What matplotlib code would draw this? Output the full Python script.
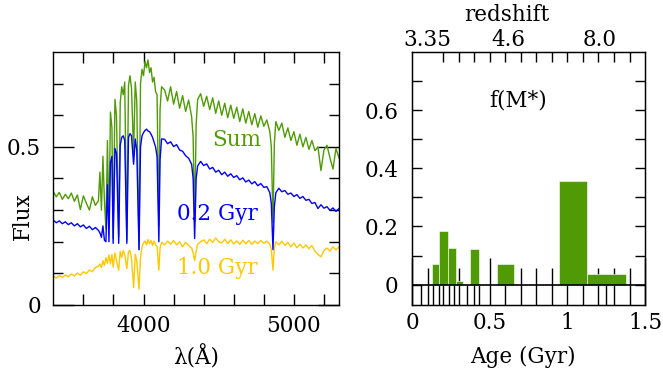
import matplotlib.pyplot as plt
import numpy as np

plt.rcParams['font.family'] = ['DejaVu Serif']
plt.rcParams['font.size'] = 15.5

# --- spectra (rest-frame wavelength in Angstrom, flux) ---
wave = [3400, 3420, 3440, 3460, 3480, 3500, 3520, 3540, 3560, 3580, 3600, 3620, 3640, 3660, 3680,
        3700, 3710, 3720, 3730, 3740, 3750, 3760, 3770, 3780, 3790, 3798, 3810, 3820, 3835, 3845,
        3855, 3865, 3875, 3889, 3900, 3910, 3920, 3934, 3945, 3955, 3970, 3980, 3990, 4000, 4010,
        4020, 4030, 4040, 4050, 4060, 4070, 4080, 4090, 4102, 4110, 4120,
        4140, 4160, 4180, 4200, 4220, 4240, 4260, 4280, 4300, 4320, 4330, 4340, 4350, 4360, 4380,
        4400, 4420, 4440, 4460, 4480, 4500, 4520, 4540, 4560, 4580, 4600, 4620, 4640, 4660, 4680,
        4700, 4720, 4740, 4760, 4780, 4800, 4820, 4840, 4850, 4861, 4870, 4880, 4900, 4920, 4940,
        4960, 4980, 5000, 5020, 5040, 5060, 5080, 5100, 5120, 5140, 5160, 5180, 5200, 5220, 5240,
        5260, 5280, 5300]

flux_sum = [0.358, 0.342, 0.356, 0.334, 0.350, 0.336, 0.354, 0.328, 0.348, 0.302, 0.345, 0.322, 0.300, 0.342, 0.315,
            0.330, 0.420, 0.300, 0.470, 0.330, 0.240, 0.520, 0.240, 0.610, 0.560, 0.210, 0.650, 0.600, 0.215, 0.640,
            0.690, 0.665, 0.705, 0.205, 0.695, 0.725, 0.685, 0.480, 0.705, 0.645, 0.175, 0.700, 0.745, 0.725, 0.770,
            0.750, 0.775, 0.735, 0.750, 0.705, 0.720, 0.675, 0.665, 0.250, 0.620, 0.690,
            0.680, 0.645, 0.690, 0.635, 0.675, 0.622, 0.662, 0.612, 0.648, 0.595, 0.530, 0.260, 0.570, 0.650, 0.668,
            0.628, 0.660, 0.618, 0.655, 0.606, 0.645, 0.600, 0.638, 0.592, 0.632, 0.590, 0.625, 0.580, 0.620, 0.575,
            0.612, 0.570, 0.605, 0.562, 0.598, 0.565, 0.585, 0.548, 0.500, 0.260, 0.510, 0.580, 0.552, 0.575, 0.530,
            0.560, 0.520, 0.548, 0.505, 0.540, 0.500, 0.530, 0.492, 0.520, 0.488, 0.500, 0.425, 0.490, 0.505, 0.465,
            0.430, 0.495, 0.465]

flux_young = [0.268, 0.260, 0.266, 0.257, 0.263, 0.254, 0.260, 0.250, 0.257, 0.247, 0.253, 0.242, 0.249, 0.238, 0.245,
              0.236, 0.228, 0.214, 0.250, 0.205, 0.200, 0.380, 0.200, 0.450, 0.470, 0.195, 0.495, 0.480, 0.195, 0.505,
              0.530, 0.535, 0.520, 0.195, 0.530, 0.542, 0.535, 0.445, 0.525, 0.490, 0.175, 0.500, 0.535, 0.545, 0.552,
              0.556, 0.550, 0.548, 0.540, 0.530, 0.515, 0.500, 0.470, 0.200, 0.460, 0.525,
              0.524, 0.510, 0.516, 0.501, 0.507, 0.490, 0.486, 0.472, 0.464, 0.445, 0.400, 0.210, 0.400, 0.440, 0.454,
              0.441, 0.446, 0.430, 0.435, 0.420, 0.426, 0.412, 0.420, 0.407, 0.415, 0.403, 0.409, 0.396, 0.402, 0.389,
              0.395, 0.383, 0.390, 0.377, 0.384, 0.372, 0.374, 0.355, 0.320, 0.175, 0.310, 0.355, 0.369, 0.358, 0.362,
              0.350, 0.354, 0.343, 0.349, 0.337, 0.343, 0.331, 0.334, 0.321, 0.324, 0.305, 0.317, 0.306, 0.311, 0.299,
              0.307, 0.296, 0.305]

flux_old = [0.091, 0.085, 0.093, 0.087, 0.095, 0.089, 0.098, 0.092, 0.101, 0.094, 0.105, 0.099, 0.111, 0.105, 0.119,
            0.122, 0.130, 0.118, 0.140, 0.125, 0.150, 0.132, 0.158, 0.130, 0.160, 0.120, 0.165, 0.140, 0.110, 0.170,
            0.150, 0.172, 0.160, 0.115, 0.168, 0.172, 0.150, 0.055, 0.160, 0.140, 0.050, 0.150, 0.185, 0.196, 0.202,
            0.190, 0.207, 0.194, 0.204, 0.188, 0.202, 0.190, 0.185, 0.110, 0.180, 0.198,
            0.190, 0.202, 0.192, 0.204, 0.190, 0.200, 0.184, 0.198, 0.188, 0.180, 0.165, 0.140, 0.170, 0.192, 0.200,
            0.206, 0.194, 0.208, 0.198, 0.212, 0.200, 0.196, 0.208, 0.194, 0.206, 0.193, 0.203, 0.192, 0.205, 0.194,
            0.204, 0.192, 0.202, 0.194, 0.204, 0.195, 0.202, 0.192, 0.175, 0.110, 0.180, 0.200, 0.190, 0.202, 0.188,
            0.198, 0.184, 0.196, 0.181, 0.192, 0.180, 0.190, 0.178, 0.188, 0.170, 0.160, 0.152, 0.172, 0.180, 0.170,
            0.184, 0.174, 0.184]

spec_labels = ['Sum', '0.2 Gyr', '1.0 Gyr']

# --- star formation history: age bins (Gyr) and mass fraction ---
bin_left = [0.125, 0.172, 0.228, 0.282, 0.372, 0.548, 0.948, 1.128]
bin_right = [0.172, 0.228, 0.282, 0.329, 0.430, 0.655, 1.128, 1.378]
mass_frac = [0.072, 0.186, 0.127, 0.013, 0.123, 0.072, 0.358, 0.035]

# ages of the model grid marked below zero
grid_ages = [0.056, 0.135, 0.172, 0.236, 0.268, 0.35, 0.43, 1.25]

z_ticks = [0.1, 0.62, 1.21]
z_labels = ['3.35', '4.6', '8.0']

green = '#4f9a05'
blue = '#0000ff'
gold = '#ffc800'

fig = plt.figure(figsize=(6.63, 3.75), dpi=100)

# ---------------- left panel: spectra ----------------
ax = fig.add_axes([0.0804, 0.1867, 0.4309, 0.6747])
ax.plot(wave, flux_sum, color=green, lw=1.0)
ax.plot(wave, flux_old, color=gold, lw=1.0)
ax.plot(wave, flux_young, color=blue, lw=1.0)
ax.set_xlim(3400, 5300)
ax.set_ylim(0, 0.8)
ax.set_xticks([4000, 5000])
ax.set_xticks(np.arange(3600, 5300, 200), minor=True)
ax.set_yticks([0, 0.5], ['0', '0.5'])
ax.set_yticks(np.arange(0.1, 0.8, 0.1), minor=True)
ax.tick_params(which='both', direction='in', top=True, right=True, width=1.0)
ax.tick_params(axis='x', which='both', length=8, pad=7)
ax.tick_params(axis='y', which='major', length=15, pad=9)
ax.tick_params(axis='y', which='minor', length=7)
for s in ax.spines.values():
    s.set_linewidth(1.0)

ax.text(4623, 0.523, spec_labels[0], color=green, ha='center', va='center')
ax.text(4489, 0.287, spec_labels[1], color=blue, ha='center', va='center')
ax.text(4491, 0.117, spec_labels[2], color=gold, ha='center', va='center')

ax.set_xlabel('λ(Å)', va='center')
ax.xaxis.set_label_coords(0.5, -0.205)
ax.set_ylabel('Flux', va='center')
ax.yaxis.set_label_coords(-0.106, 0.349)

# ---------------- right panel: mass fractions ----------------
ax2 = fig.add_axes([0.6219, 0.1867, 0.351, 0.6747])
widths = [r - l for l, r in zip(bin_left, bin_right)]
ax2.bar(bin_left, mass_frac, width=widths, align='edge', color=green,
        edgecolor='white', linewidth=0.4, zorder=3)
ax2.axhline(0, color='black', lw=1.2, zorder=4)
ax2.vlines(grid_ages, -0.07, 0, color='black', lw=1.0)
ax2.set_xlim(0, 1.5)
ax2.set_ylim(-0.07, 0.8)
ax2.set_xticks([0, 0.5, 1, 1.5], ['0', '0.5', '1', '1.5'])
ax2.set_xticks(np.arange(0.1, 1.45, 0.1), minor=True)
ax2.set_yticks([0, 0.2, 0.4, 0.6], ['0', '0.2', '0.4', '0.6'])
ax2.set_yticks([0.1, 0.3, 0.5, 0.7], minor=True)
ax2.tick_params(which='both', direction='in', right=True, width=1.0)
ax2.tick_params(axis='x', which='major', length=34, pad=5)
ax2.tick_params(axis='x', which='minor', length=27)
ax2.tick_params(axis='y', which='both', length=7, pad=10)
for s in ax2.spines.values():
    s.set_linewidth(1.0)

ax2.text(0.682, 0.634, 'f(M*)', ha='center', va='center')
ax2.set_xlabel('Age (Gyr)', va='center')
ax2.xaxis.set_label_coords(0.476, -0.205)

top = ax2.twiny()
top.set_xlim(0, 1.5)
top.set_xticks(z_ticks, z_labels)
top.set_xticks(np.arange(0.1, 1.45, 0.1), minor=True)
top.tick_params(which='major', length=0, pad=0.5)
top.tick_params(which='minor', direction='in', length=7, width=1.0)
top.set_xlabel('redshift', va='center')
top.xaxis.set_label_coords(0.406, 1.145)

fig.savefig('out.png', dpi=100)
